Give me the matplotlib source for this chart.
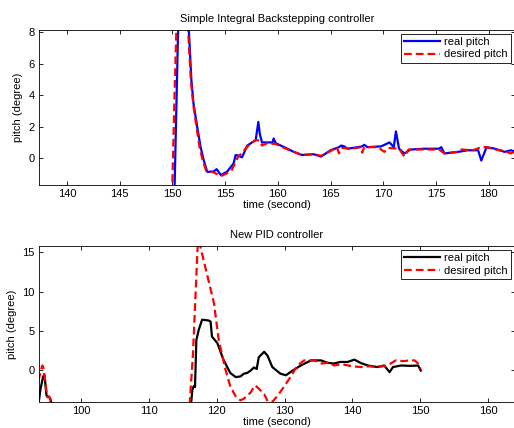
import numpy as np
import matplotlib
matplotlib.use("Agg")
import matplotlib.pyplot as plt

plt.rcParams['font.family'] = ['Liberation Sans', 'DejaVu Sans']

# top panel: simple integral backstepping
t_bs_real = [150.0, 150.2, 150.4, 150.6, 151.3, 151.56, 151.8, 152.0, 152.35, 152.67, 152.97, 153.3, 153.9,
             154.2, 154.6, 155.2, 155.8, 156.0, 156.3, 156.6, 157.1, 157.9, 158.15, 158.3, 158.5, 158.7,
             159.5, 159.6, 159.8, 160.6, 161.5, 162.3, 163.4, 164.1, 165.0, 165.8, 166.0, 166.3, 166.6,
             167.6, 168.0, 168.2, 168.5, 169.8, 170.6, 171.0, 171.2, 171.5, 172.0, 172.6, 173.9, 175.3,
             175.5, 175.8, 177.1, 178.0, 179.0, 179.3, 179.8, 180.6, 181.5, 182.1, 182.6]
real_bs = [-6.0, -2.0, 4.0, 10.0, 10.0, 8.1, 4.95, 3.47, 2.0, 0.72, -0.13, -0.87, -0.85,
           -0.7, -1.08, -0.85, -0.34, 0.2, 0.15, 0.05, 0.8, 1.15, 2.3, 1.5, 1.0, 1.0,
           1.0, 1.25, 0.95, 0.7, 0.4, 0.2, 0.25, 0.1, 0.5, 0.7, 0.8, 0.75, 0.6,
           0.7, 0.75, 0.85, 0.7, 0.75, 1.0, 0.7, 1.7, 0.6, 0.3, 0.55, 0.6, 0.6,
           0.7, 0.3, 0.4, 0.5, 0.5, -0.15, 0.7, 0.6, 0.4, 0.5, 0.4]
t_bs_des = [149.7, 150.0, 150.2, 150.45, 151.2, 151.5, 151.75, 152.0, 152.3, 152.6, 152.9, 153.2, 153.9,
            154.6, 155.2, 155.6, 156.2, 156.8, 157.5, 158.0, 158.3, 158.5, 159.0, 159.8, 160.6, 161.5,
            162.3, 163.4, 164.1, 165.0, 165.6, 165.8, 166.1, 167.0, 167.9, 168.0, 168.2, 169.5, 170.1,
            170.5, 171.5, 172.0, 172.4, 173.9, 175.3, 175.8, 177.1, 177.4, 178.5, 179.3, 179.8, 180.6,
            181.5, 182.1, 182.6]
des_bs = [-6.0, -1.5, 4.0, 10.0, 10.0, 8.0, 4.9, 3.3, 1.9, 0.6, -0.2, -0.8, -0.9,
          -1.15, -0.95, -0.8, 0.05, 0.5, 1.0, 1.15, 1.1, 0.8, 0.95, 0.9, 0.65, 0.4,
          0.2, 0.25, 0.15, 0.45, 0.7, 0.3, 0.65, 0.6, 0.7, 0.35, 0.7, 0.7, 0.4,
          0.65, 0.6, 0.1, 0.55, 0.55, 0.55, 0.3, 0.4, 0.55, 0.5, 0.7, 0.7, 0.55,
          0.45, 0.3, 0.45]

# bottom panel: new PID
t_pid_real1 = [93.7, 94.0, 94.4, 94.6, 94.9, 95.4, 95.7]
real_pid1 = [-4.5, -2.5, -0.85, -0.7, -3.3, -3.6, -4.5]
t_pid_des1 = [93.7, 94.2, 94.3, 94.45, 94.7, 95.0, 95.3, 95.7, 95.9]
des_pid1 = [-1.4, 0.34, 0.55, 0.2, -1.4, -3.5, -3.4, -4.2, -4.6]

t_pid_real = [116.2, 116.4, 116.6, 116.8, 117.0, 117.35, 117.85, 118.8, 119.1, 119.3, 120.1, 121.0,
              122.0, 122.8, 123.5, 124.0, 124.5, 125.0, 125.5, 125.9, 126.2, 127.0, 127.5, 128.2,
              129.4, 130.2, 131.2, 132.4, 133.9, 135.4, 136.3, 137.3, 138.2, 139.3, 140.3, 141.3, 142.3,
              143.7, 144.7, 145.5, 146.0, 147.2, 148.5, 149.7, 150.1]
real_pid = [-4.5, -2.6, -2.1, -2.2, 3.8, 5.1, 6.4, 6.3, 6.15, 4.25, 3.4, 1.27,
            -0.4, -0.93, -0.85, -0.5, -0.4, -0.1, 0.3, 0.1, 1.6, 2.3, 1.8, 0.35,
            -0.5, -0.7, -0.1, 0.55, 1.2, 1.2, 0.9, 0.8, 1.0, 1.0, 1.3, 0.85, 0.55,
            0.35, 0.55, -0.3, 0.35, 0.55, 0.5, 0.55, -0.1]
t_pid_des = [116.0, 116.5, 117.0, 117.3, 117.6, 119.6, 120.3, 121.3, 122.0, 122.8, 123.5, 124.0,
             124.5, 125.0, 125.5, 125.7, 126.2, 127.0, 127.5, 128.2, 128.9, 129.9, 130.9, 131.9,
             132.9, 134.4, 135.5, 136.5, 137.3, 138.5, 140.0, 141.3, 142.5, 143.7, 145.2, 146.4,
             147.5, 148.5, 149.2, 149.7, 150.1]
des_pid = [-4.5, 2.0, 12.0, 18.0, 15.7, 8.5, 3.8, 0.0, -2.1, -3.4, -3.9, -3.7,
           -3.3, -2.9, -2.2, -2.0, -2.4, -3.1, -4.0, -4.1, -3.4, -2.2, -0.9, 0.55,
           1.2, 1.2, 0.8, 0.9, 0.55, 0.7, 0.45, 0.35, 0.45, 0.35, 0.55, 1.2,
           1.1, 1.2, 1.2, 0.8, 0.1]

fig = plt.figure(figsize=(5.14, 4.28), dpi=100)
ax1 = fig.add_axes([0.076, 0.568, 0.926, 0.362])
ax2 = fig.add_axes([0.076, 0.061, 0.926, 0.364])

fs = 8
ax1.plot(t_bs_real, real_bs, color='#0000ff', lw=1.6, label='real pitch')
ax1.plot(t_bs_des, des_bs, color='#ff0000', lw=1.6, ls='--', dashes=(3.5, 1.8), label='desired pitch')
ax1.set_xlim(137.35, 182.5)
ax1.set_ylim(-1.7, 8.15)
ax1.set_xticks(np.arange(140, 181, 5))
ax1.set_yticks([0, 2, 4, 6, 8])
ax1.set_title('Simple Integral Backstepping controller', fontsize=fs, pad=6)
ax1.set_xlabel('time (second)', fontsize=fs, labelpad=1)
ax1.set_ylabel('pitch (degree)', fontsize=fs, labelpad=4)

ax2.plot(t_pid_real1, real_pid1, color='black', lw=1.6, label='real pitch')
ax2.plot(t_pid_des1, des_pid1, color='#ff0000', lw=1.6, ls='--', dashes=(3.5, 1.8), label='_nolegend_')
ax2.plot(t_pid_real, real_pid, color='black', lw=1.6, label='_nolegend_')
ax2.plot(t_pid_des, des_pid, color='#ff0000', lw=1.6, ls='--', dashes=(3.5, 1.8), label='desired pitch')
ax2.set_xlim(93.8, 164.0)
ax2.set_ylim(-4.1, 15.8)
ax2.set_xticks(np.arange(100, 161, 10))
ax2.set_yticks([0, 5, 10, 15])
ax2.set_title('New PID controller', fontsize=fs, pad=6)
ax2.set_xlabel('time (second)', fontsize=fs, labelpad=1)
ax2.set_ylabel('pitch (degree)', fontsize=fs, labelpad=4)

for ax in (ax1, ax2):
    ax.tick_params(direction='in', top=True, right=True, labelsize=fs, length=3, width=0.6, pad=3)
    for s in ax.spines.values():
        s.set_linewidth(0.6)
    leg = ax.legend(loc='upper right', fontsize=fs, fancybox=False, edgecolor='black',
                    framealpha=1, borderpad=0.3, handlelength=3.2, handletextpad=0.4,
                    labelspacing=0.2, borderaxespad=0.35)
    leg.get_frame().set_linewidth(0.6)

fig.savefig('out.png', dpi=100)
